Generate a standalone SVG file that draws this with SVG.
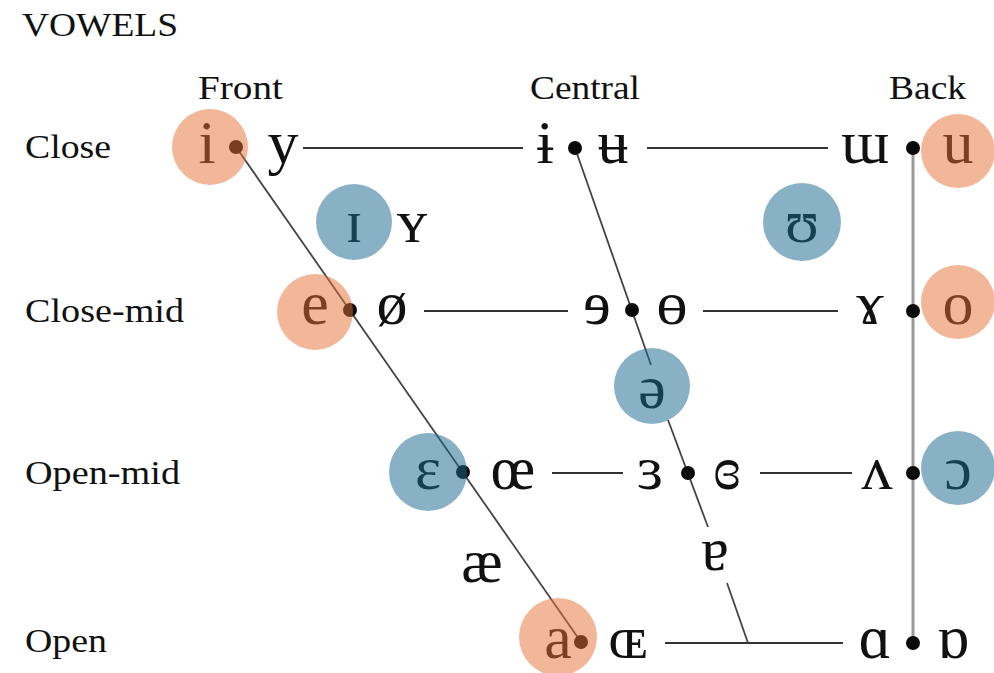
<svg xmlns="http://www.w3.org/2000/svg" width="994" height="673" viewBox="0 0 994 673">
<style>
.lbl{font-family:"Liberation Serif","Times New Roman",serif;font-size:34px;fill:#111}
.ipa{font-family:"Liberation Serif","DejaVu Serif",serif;font-size:62px;fill:#111;text-anchor:middle}
.h{stroke:#333;stroke-width:2;fill:none}
.d{stroke:#444;stroke-width:1.8;fill:none}
.v{stroke:#999;stroke-width:3;fill:none}
.dot{fill:#0a0a0a}
.or{fill:#e66e32;fill-opacity:0.5}
.bl{fill:#1d6a90;fill-opacity:0.52}
</style>
<rect width="994" height="673" fill="#fff"/>
<g id="labels">
<text class="lbl" x="22" y="36" textLength="156" lengthAdjust="spacingAndGlyphs">VOWELS</text>
<text class="lbl" x="198" y="99" textLength="85" lengthAdjust="spacingAndGlyphs">Front</text>
<text class="lbl" x="530" y="99" textLength="110" lengthAdjust="spacingAndGlyphs">Central</text>
<text class="lbl" x="889" y="99" textLength="77" lengthAdjust="spacingAndGlyphs">Back</text>
<text class="lbl" x="25" y="158" textLength="86" lengthAdjust="spacingAndGlyphs">Close</text>
<text class="lbl" x="25" y="322" textLength="159" lengthAdjust="spacingAndGlyphs">Close-mid</text>
<text class="lbl" x="25" y="484" textLength="155" lengthAdjust="spacingAndGlyphs">Open-mid</text>
<text class="lbl" x="25" y="652" textLength="82" lengthAdjust="spacingAndGlyphs">Open</text>
</g>
<g id="connectors">
<line class="h" x1="303" y1="148" x2="523" y2="148"/>
<line class="h" x1="647" y1="148" x2="828" y2="148"/>
<line class="h" x1="424" y1="311" x2="568" y2="311"/>
<line class="h" x1="703" y1="311" x2="838" y2="311"/>
<line class="h" x1="552" y1="473" x2="623" y2="473"/>
<line class="h" x1="760" y1="473" x2="852" y2="473"/>
<line class="h" x1="665" y1="643" x2="843" y2="643"/>
<line class="d" x1="236" y1="147" x2="581" y2="642"/>
<line class="d" x1="575" y1="148" x2="651" y2="365"/>
<line class="d" x1="668" y1="420" x2="708" y2="527"/>
<line class="d" x1="727" y1="583" x2="748" y2="643"/>
<line class="v" x1="913" y1="148" x2="913" y2="643"/>
</g>
<g id="dots">
<circle class="dot" cx="236" cy="147" r="7"/>
<circle class="dot" cx="575" cy="148" r="7"/>
<circle class="dot" cx="913" cy="148" r="7"/>
<circle class="dot" cx="350" cy="310" r="7"/>
<circle class="dot" cx="632" cy="310" r="7"/>
<circle class="dot" cx="913" cy="311" r="7"/>
<circle class="dot" cx="463" cy="472" r="7"/>
<circle class="dot" cx="688" cy="473" r="7"/>
<circle class="dot" cx="913" cy="473" r="7"/>
<circle class="dot" cx="581" cy="642" r="7"/>
<circle class="dot" cx="913" cy="643" r="7"/>
</g>
<g id="close-row">
<text class="ipa" x="207" y="163">i</text>
<text class="ipa" x="283" y="163">y</text>
<text class="ipa" x="545" y="163">ɨ</text>
<text class="ipa" x="613" y="163">ʉ</text>
<text class="ipa" x="865" y="163">ɯ</text>
<text class="ipa" x="958" y="163">u</text>
</g>
<g id="near-close-row">
<text class="ipa" x="354" y="242">ɪ</text>
<text class="ipa" x="412" y="242">ʏ</text>
<text class="ipa" x="802" y="242">ʊ</text>
</g>
<g id="close-mid-row">
<text class="ipa" x="315" y="324">e</text>
<text class="ipa" x="392" y="324">ø</text>
<text class="ipa" x="597" y="324">ɘ</text>
<text class="ipa" x="672" y="324">ɵ</text>
<text class="ipa" x="870" y="324">ɤ</text>
<text class="ipa" x="958" y="324">o</text>
</g>
<g id="mid-row">
<text class="ipa" x="652" y="408">ə</text>
</g>
<g id="open-mid-row">
<text class="ipa" x="428" y="489">ɛ</text>
<text class="ipa" x="513" y="489">œ</text>
<text class="ipa" x="650" y="489">ɜ</text>
<text class="ipa" x="727" y="489">ɞ</text>
<text class="ipa" x="877" y="489">ʌ</text>
<text class="ipa" x="958" y="489">ɔ</text>
</g>
<g id="near-open-row">
<text class="ipa" x="482" y="582">æ</text>
<text class="ipa" x="715" y="570">ɐ</text>
</g>
<g id="open-row">
<text class="ipa" x="558" y="658">a</text>
<text class="ipa" x="628" y="658">ɶ</text>
<text class="ipa" x="875" y="658">ɑ</text>
<text class="ipa" x="953" y="658">ɒ</text>
</g>
<g id="highlights">
<circle class="or" cx="210" cy="147" r="38"/>
<circle class="or" cx="958" cy="151" r="37"/>
<circle class="or" cx="315" cy="312" r="38"/>
<circle class="or" cx="958" cy="302" r="37"/>
<circle class="or" cx="558" cy="637" r="39"/>
<circle class="bl" cx="354" cy="222" r="38"/>
<circle class="bl" cx="802" cy="222" r="39"/>
<circle class="bl" cx="652" cy="386" r="38"/>
<circle class="bl" cx="428" cy="472" r="39"/>
<circle class="bl" cx="958" cy="468" r="37"/>
</g>
</svg>
